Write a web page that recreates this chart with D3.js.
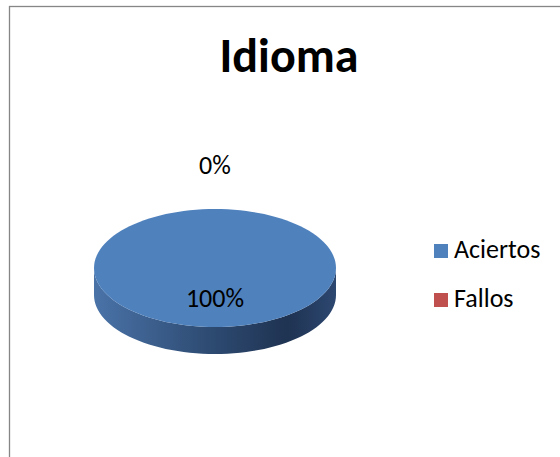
<!DOCTYPE html>
<html>
<head>
<meta charset="utf-8">
<script src="https://cdn.jsdelivr.net/npm/d3@7"></script>
<style>
  body { margin: 0; background: #fff; }
  text { font-family: Carlito, Calibri, Lato, sans-serif; fill: #000; }
</style>
</head>
<body>
<div id="chart"></div>
<script>
// data
var categories = ["Aciertos", "Fallos"];
var values = [100, 0];
var colors = ["#4F81BD", "#C0504D"];
var titleChart = "Idioma";

var W = 560, H = 457;

var svg = d3.select("#chart").append("svg")
    .attr("width", W)
    .attr("height", H);

// chart area border
svg.append("rect")
    .attr("x", 9.5).attr("y", 6.5)
    .attr("width", W + 10).attr("height", H + 10)
    .style("fill", "#fff")
    .style("stroke", "#868686")
    .style("stroke-width", 1.3);

// title
svg.append("text")
    .attr("x", 289).attr("y", 72)
    .attr("text-anchor", "middle")
    .style("font-size", "48px")
    .style("font-weight", "bold")
    .text(titleChart);

// pie geometry (3d ellipse)
var cx = 215, cy = 268, rx = 121, ry = 59, depth = 27;

var defs = svg.append("defs");
var grad = defs.append("linearGradient")
    .attr("id", "sideGrad")
    .attr("x1", "0%").attr("x2", "100%").attr("y1", "0%").attr("y2", "0%");
grad.append("stop").attr("offset", "0%").attr("stop-color", "#4a73a8");
grad.append("stop").attr("offset", "45%").attr("stop-color", "#2f4d75");
grad.append("stop").attr("offset", "80%").attr("stop-color", "#1f3352");
grad.append("stop").attr("offset", "100%").attr("stop-color", "#2c4770");

var pie = d3.pie().sort(null).value(function(d) { return d; });
var arcs = pie(values);

function pt(a, r, dy) {
    return [cx + rx * r * Math.sin(a), cy - ry * r * Math.cos(a) + (dy || 0)];
}

var line = d3.line();

// sides (front half only)
arcs.forEach(function(d, i) {
    var a0 = Math.max(d.startAngle, Math.PI / 2);
    var a1 = Math.min(d.endAngle, 3 * Math.PI / 2);
    if (a1 <= a0) return;
    var top = d3.range(0, 61).map(function(k) { return pt(a0 + (a1 - a0) * k / 60, 1, 0); });
    var bot = top.slice().reverse().map(function(p) { return [p[0], p[1] + depth]; });
    svg.append("path")
        .attr("d", line(top.concat(bot)) + "Z")
        .style("fill", i === 0 ? "url(#sideGrad)" : d3.color(colors[i]).darker(1.2));
});

// top faces
arcs.forEach(function(d, i) {
    if (d.endAngle - d.startAngle <= 0) return;
    var n = 120;
    var pts = d3.range(0, n + 1).map(function(k) {
        return pt(d.startAngle + (d.endAngle - d.startAngle) * k / n, 1, 0);
    });
    var full = (d.endAngle - d.startAngle) >= 2 * Math.PI - 1e-6;
    var p = full ? line(pts) + "Z" : "M" + cx + "," + cy + "L" + line(pts).slice(1) + "Z";
    svg.append("path")
        .attr("d", p)
        .style("fill", colors[i]);
});

// data labels
var total = d3.sum(values);
arcs.forEach(function(d, i) {
    var mid = (d.startAngle + d.endAngle) / 2;
    var small = (d.endAngle - d.startAngle) < 0.3;
    var pos = small ? pt(mid, 1.75, 0) : pt(mid, 0.5, 0);
    svg.append("text")
        .attr("x", pos[0]).attr("y", pos[1])
        .attr("dy", "0.35em")
        .attr("text-anchor", "middle")
        .style("font-size", "26px")
        .text(Math.round(d.data / total * 100) + "%");
});

// legend
var legend = svg.selectAll(".legend")
    .data(categories)
    .enter().append("g")
    .attr("class", "legend")
    .attr("transform", function(d, i) { return "translate(434," + (244 + i * 49) + ")"; });

legend.append("rect")
    .attr("width", 14).attr("height", 14)
    .style("fill", function(d, i) { return colors[i]; });

legend.append("text")
    .attr("x", 20).attr("y", 14)
    .style("font-size", "26px")
    .text(function(d) { return d; });
</script>
</body>
</html>
